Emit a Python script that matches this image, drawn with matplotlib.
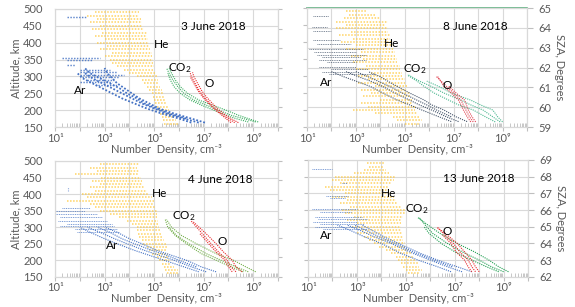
import numpy as np
import matplotlib
matplotlib.use("Agg")
import matplotlib.pyplot as plt
from matplotlib.ticker import FixedLocator, FuncFormatter, LogLocator, NullFormatter

plt.rcParams['font.family'] = ['Lato', 'DejaVu Sans']
plt.rcParams['mathtext.default'] = 'regular'

# ---- data: densities as log10(n, cm^-3), altitudes in km ----
HE_ALT = [160, 170, 180, 190, 200, 210, 220, 230, 240, 250, 260, 270, 280, 290,
          300, 310, 320, 330, 340, 350, 360, 370, 380, 390, 400, 410, 420, 430,
          440, 450, 460, 470, 480, 490, 500]

# 3 June 2018
he_lo_0603 = [5.4, 5.35, 5.3, 5.25, 5.2, 5.1, 5.05, 5.0, 4.95, 4.9, 4.8, 4.7, 4.6, 4.5,
              4.3, 4.0, 3.8, 3.5, 3.3, 3.2, 3.0, 3.3, 2.8, 3.1, 2.7, 3.0, 2.6, 2.9,
              2.5, 2.8, 2.4, 2.7, 2.3, 2.6, 2.5]
he_hi_0603 = [6.0, 5.9, 5.8, 5.7, 5.6, 5.55, 5.5, 5.45, 5.4, 5.35, 5.3, 5.25, 5.2, 5.15,
              5.1, 5.05, 5.0, 5.0, 4.95, 4.95, 4.9, 4.9, 4.85, 4.8, 4.8, 4.75, 4.7, 4.7,
              4.6, 4.5, 4.5, 4.45, 4.4, 4.4, 4.3]
ar_alt_0603 = [163, 175, 190, 205, 220, 235, 250, 265, 280, 295, 310, 325]
ar_0603 = [[7.05, 6.5, 5.8, 5.2, 4.8, 4.4, 4.1, 3.8, 3.5, 3.3, 3.1, 3.0],
           [6.8, 6.2, 5.5, 5.0, 4.5, 4.1, 3.7, 3.3, 2.9, 2.5, 2.2, np.nan],
           [6.5, 6.0, 5.3, 4.7, 4.2, 3.7, 3.3, 2.9, 2.5, 2.1, 1.9, np.nan],
           [np.nan, 6.3, 5.6, 5.1, 4.6, 4.3, 3.9, 3.6, 3.2, 2.8, 2.4, 2.2]]
ar_top_alt_0603 = [475, 356, 350, 335, 320, 312, 305, 298, 290, 282, 275]
ar_top_lo_0603 = [1.5, 1.3, 1.5, 1.5, 2.0, 2.0, 2.0, 2.1, 2.3, 2.0, 2.6]
ar_top_hi_0603 = [2.3, 2.8, 2.5, 1.8, 3.2, 3.5, 3.8, 3.6, 3.4, 3.3, 3.5]
co2_alt_0603 = [165, 175, 185, 200, 215, 230, 250, 270, 290, 310, 325]
co2_0603 = [[9.1, 8.6, 8.1, 7.6, 7.1, 6.6, 6.2, 5.95, 5.75, 5.6, 5.5],
            [8.8, 8.3, 7.9, 7.4, 6.9, 6.45, 6.05, 5.8, 5.65, 5.55, np.nan],
            [9.2, 8.8, 8.4, 7.9, 7.35, 6.8, 6.35, 6.05, 5.85, 5.7, 5.6]]
o_alt_0603 = [163, 175, 190, 205, 220, 240, 260, 280, 300, 312]
o_0603 = [[8.25, 8.0, 7.7, 7.45, 7.25, 7.0, 6.8, 6.65, 6.5, 6.45],
          [8.1, 7.9, 7.65, 7.4, 7.2, 6.95, 6.75, 6.6, 6.45, np.nan],
          [8.4, 8.1, 7.8, 7.55, 7.35, 7.1, 6.9, 6.75, 6.6, 6.55]]

# 8 June 2018
he_lo_0608 = [5.0, 4.7, 4.5, 3.8, 2.9, 3.5, 3.2, 4.0, 3.3, 3.6, 3.2, 3.8, 3.1, 3.5,
              3.1, 3.6, 3.0, 3.4, 2.9, 3.3, 2.8, 3.2, 2.6, 3.0, 2.4, 2.9, 2.3, 2.8,
              2.2, 2.6, 2.2, 2.5, 2.7, 2.6, np.nan]
he_hi_0608 = [5.6, 5.7, 5.6, 5.5, 5.4, 5.4, 5.3, 5.3, 5.2, 5.2, 5.1, 5.1, 5.0, 5.0,
              4.9, 4.9, 4.8, 4.8, 4.7, 4.7, 4.6, 4.6, 4.5, 4.5, 4.5, 4.4, 4.4, 4.3,
              4.3, 4.2, 4.3, 4.0, 3.8, 3.4, np.nan]
ar_alt_0608 = [166, 180, 200, 215, 229, 250, 269, 285, 298, 313]
ar_0608 = [[7.55, 7.1, 6.6, 6.1, 5.8, 5.2, 4.7, 4.3, 4.0, 3.5],
           [7.2, 6.7, 6.1, 5.6, 5.2, 4.6, 4.1, 3.6, 3.1, 2.6],
           [6.9, 6.4, 5.7, 5.2, 4.7, 4.1, 3.6, 3.0, 2.5, 2.0],
           [np.nan, 6.9, 6.3, 5.9, 5.5, 4.9, 4.4, 3.9, 3.5, 3.0]]
ar_top_alt_0608 = [476, 445, 432, 406, 395, 378, 370, 362, 355, 347, 340, 327, 320, 313, 305]
ar_top_lo_0608 = [1.25, 1.2, 1.25, 1.25, 1.4, 1.1, 1.3, 1.4, 1.6, 1.5, 1.8, 1.5, 2.0, 1.6, 1.9]
ar_top_hi_0608 = [1.9, 1.8, 2.0, 2.35, 2.8, 3.3, 3.0, 3.4, 3.2, 3.4, 3.0, 3.0, 3.5, 3.0, 3.8]
co2_alt_0608 = [165, 180, 200, 215, 229, 250, 269, 285, 303]
co2_0608 = [[8.9, 8.6, 8.2, 7.7, 7.3, 6.6, 6.1, 5.6, 5.15],
            [8.7, 8.3, 7.8, 7.2, 6.8, 6.2, 5.8, 5.5, 5.1],
            [9.0, 8.8, 8.6, 8.1, 7.7, 6.9, 6.4, 5.9, np.nan]]
o_alt_0608 = [165, 180, 200, 229, 250, 270, 298]
o_0608 = [[7.8, 7.65, 7.5, 7.3, 7.0, 6.7, 6.3],
          [7.7, 7.55, 7.4, 7.2, 6.9, 6.6, 6.35],
          [7.9, 7.75, 7.6, 7.45, 7.1, 6.8, np.nan]]
sza_top_0608 = 65.0

# 4 June 2018
he_lo_0604 = [5.5, 5.45, 5.4, 5.3, 5.2, 5.1, 4.9, 4.8, 4.7, 4.55, 4.5, 4.4, 4.35, 4.3,
              4.3, 4.1, 3.9, 3.6, 3.2, 2.8, 2.6, 2.4, 1.5, 2.3, 2.1, 2.6, 2.4, 2.8,
              2.5, 2.85, 1.8, 2.7, 2.4, 2.8, 2.7]
he_hi_0604 = [6.0, 5.95, 5.8, 5.7, 5.6, 5.6, 5.55, 5.5, 5.5, 5.5, 5.4, 5.35, 5.3, 5.25,
              5.2, 5.2, 5.15, 5.1, 5.1, 5.1, 5.05, 5.0, 5.0, 4.9, 4.8, 4.7, 4.6, 4.5,
              4.5, 4.45, 4.4, 4.4, 4.3, 4.4, 4.4]
ar_alt_0604 = [165, 180, 200, 215, 230, 250, 265, 285, 300]
ar_0604 = [[7.5, 6.9, 6.3, 5.7, 5.1, 4.5, 4.0, 3.5, 3.0],
           [7.1, 6.5, 5.8, 5.2, 4.6, 3.9, 3.4, 2.8, 2.3],
           [6.8, 6.2, 5.4, 4.8, 4.2, 3.5, 3.0, 2.4, 2.0],
           [np.nan, 6.7, 6.0, 5.5, 4.9, 4.2, 3.7, 3.2, 2.7]]
ar_top_alt_0604 = [359, 350, 339, 330, 318, 310, 303, 295, 284]
ar_top_lo_0604 = [1.3, 1.0, 1.0, 1.2, 1.1, 1.5, 1.2, 1.8, 1.9]
ar_top_hi_0604 = [2.4, 2.2, 2.7, 2.9, 3.1, 3.3, 3.4, 3.5, 3.6]
ar_spot_alt_0604 = [408, 422]
ar_spot_0604 = [1.52, 1.52]
co2_alt_0604 = [165, 180, 200, 220, 250, 275, 300, 323]
co2_0604 = [[9.1, 8.7, 8.2, 7.5, 6.7, 6.1, 5.7, 5.5],
            [8.8, 8.3, 7.7, 7.1, 6.4, 5.9, 5.6, np.nan],
            [8.6, 8.1, 7.5, 6.9, 6.3, 5.85, 5.55, 5.45]]
o_alt_0604 = [165, 180, 200, 225, 250, 280, 318]
o_0604 = [[8.55, 8.3, 8.15, 7.8, 7.5, 7.1, 6.55],
          [8.3, 8.1, 7.95, 7.6, 7.3, 6.95, 6.5],
          [8.15, 8.0, 7.85, 7.5, 7.2, 6.85, np.nan]]

# 13 June 2018
he_lo_0613 = [5.1, 5.0, 4.9, 4.8, 4.7, 4.6, 4.4, 4.2, 3.9, 3.7, 3.5, 3.3, 3.0, 3.2,
              2.8, 3.0, 2.6, 2.9, 2.5, 2.4, 2.7, 2.3, 2.6, 2.0, 2.5, 1.9, 1.7, 2.3,
              2.0, 2.1, 2.9, 3.3, 3.5, 3.4, 3.5]
he_hi_0613 = [5.6, 5.65, 5.55, 5.5, 5.4, 5.35, 5.2, 5.1, 5.0, 4.95, 4.9, 4.9, 4.85, 4.8,
              4.8, 4.8, 4.85, 4.9, 5.0, 5.0, 4.8, 4.7, 4.6, 4.5, 4.4, 4.3, 4.3, 4.4,
              4.5, 4.55, 4.3, 4.2, 4.1, 4.15, 4.0]
ar_alt_0613 = [165, 180, 200, 220, 250, 270, 290, 305]
ar_0613 = [[7.7, 7.1, 6.3, 5.6, 4.7, 4.1, 3.6, 3.2],
           [7.3, 6.7, 6.0, 5.3, 4.4, 3.7, 3.1, 2.6],
           [6.85, 6.3, 5.5, 4.8, 4.0, 3.3, 2.7, 2.2],
           [np.nan, 6.9, 6.15, 5.45, 4.55, 3.9, 3.35, 2.9]]
ar_top_alt_0613 = [473, 431, 392, 385, 352, 345, 330, 322, 315, 308, 300, 292]
ar_top_lo_0613 = [1.15, 2.4, 1.75, 1.9, 1.15, 1.5, 1.3, 1.4, 1.2, 1.5, 1.3, 1.6]
ar_top_hi_0613 = [2.0, 2.6, 2.65, 2.5, 3.0, 2.8, 3.2, 3.4, 3.0, 3.3, 3.0, 3.4]
co2_alt_0613 = [165, 180, 200, 225, 250, 280, 300, 327]
co2_0613 = [[9.2, 8.8, 8.4, 7.8, 7.1, 6.4, 6.0, 5.5],
            [9.0, 8.5, 8.0, 7.3, 6.7, 6.1, 5.85, 5.55],
            [8.8, 8.3, 7.7, 7.0, 6.45, 5.95, 5.75, np.nan]]
o_alt_0613 = [165, 180, 200, 225, 250, 275, 297]
o_0613 = [[8.0, 7.85, 7.7, 7.4, 7.1, 6.7, 6.3],
          [7.85, 7.7, 7.55, 7.2, 6.95, 6.6, 6.3],
          [7.7, 7.55, 7.4, 7.05, 6.85, 6.5, np.nan]]

GRID = '#D9D9D9'
TXT = '#595959'
DOT = (0, (1, 1))
FS = 8
SUP = {1: '¹', 3: '³', 5: '⁵', 7: '⁷', 9: '⁹'}

panels = [
    dict(rect=[0.0957, 0.5863, 0.3878, 0.3844], title='3 June 2018', left=True, sza=(59, 65),
         he=(he_lo_0603, he_hi_0603), ar=(ar_alt_0603, ar_0603),
         ar_top=(ar_top_alt_0603, ar_top_lo_0603, ar_top_hi_0603),
         co2=(co2_alt_0603, co2_0603), o=(o_alt_0603, o_0603),
         c_ar='#4472C4', c_co2='#3DAE62', c_o='#E8282B', ar_lw=1.3,
         lab=dict(title=(7.4, 447), He=(5.3, 396), CO2=(6.05, 325), O=(7.2, 280), Ar=(2.0, 257))),
    dict(rect=[0.5339, 0.5863, 0.3826, 0.3876], title='8 June 2018', left=False, sza=(59, 65),
         he=(he_lo_0608, he_hi_0608), ar=(ar_alt_0608, ar_0608),
         ar_top=(ar_top_alt_0608, ar_top_lo_0608, ar_top_hi_0608),
         co2=(co2_alt_0608, co2_0608), o=(o_alt_0608, o_0608),
         c_ar='#44546A', c_co2='#4DB890', c_o='#E0404F', ar_lw=0.8, sza_top=sza_top_0608,
         lab=dict(title=(7.9, 445), He=(4.45, 397), CO2=(5.4, 320), O=(6.75, 271), Ar=(1.8, 280))),
    dict(rect=[0.0957, 0.0985, 0.3878, 0.3771], title='4 June 2018', left=True, sza=(59, 65),
         he=(he_lo_0604, he_hi_0604), ar=(ar_alt_0604, ar_0604),
         ar_top=(ar_top_alt_0604, ar_top_lo_0604, ar_top_hi_0604),
         ar_spot=(ar_spot_alt_0604, ar_spot_0604),
         co2=(co2_alt_0604, co2_0604), o=(o_alt_0604, o_0604),
         c_ar='#4472C4', c_co2='#70AD47', c_o='#E8282B', ar_lw=0.8,
         lab=dict(title=(7.66, 443), He=(5.2, 403), CO2=(6.2, 333), O=(7.75, 258), Ar=(3.3, 245))),
    dict(rect=[0.5357, 0.0985, 0.3826, 0.3804], title='13 June 2018', left=False, sza=(62, 69),
         he=(he_lo_0613, he_hi_0613), ar=(ar_alt_0613, ar_0613),
         ar_top=(ar_top_alt_0613, ar_top_lo_0613, ar_top_hi_0613),
         co2=(co2_alt_0613, co2_0613), o=(o_alt_0613, o_0613),
         c_ar='#4472C4', c_co2='#1E9E50', c_o='#E8282B', ar_lw=0.8,
         lab=dict(title=(7.98, 445), He=(4.3, 401), CO2=(5.45, 352), O=(6.7, 287), Ar=(1.75, 274))),
]

fig = plt.figure(figsize=(5.75, 3.07), dpi=100)


def decade_label(v, pos):
    k = int(round(np.log10(v)))
    return '10' + SUP[k] if k in SUP else ''


for p in panels:
    ax = fig.add_axes(p['rect'])
    ax2 = ax.twinx()
    ax.set_zorder(2)
    ax2.set_zorder(1)
    ax.patch.set_visible(False)

    ax.set_xscale('log')
    ax.set_xlim(1e1, 1e10)
    ax.set_ylim(150, 500)
    ax2.set_ylim(*p['sza'])

    # He: spin-modulated spread, drawn as dotted horizontal bars
    lo, hi = p['he']
    for a, l, h in zip(HE_ALT, lo, hi):
        if np.isnan(l):
            continue
        ax.hlines(a, 10 ** l, 10 ** h, colors='#FFC83A', linestyles=DOT, lw=1.1, alpha=0.8)

    # Ar
    alt, rows = p['ar']
    for r in rows:
        ax.plot(10 ** np.array(r), alt, ls=DOT, lw=p['ar_lw'], color=p['c_ar'])
    ta, tl, th = p['ar_top']
    for a, l, h in zip(ta, tl, th):
        ax.hlines(a, 10 ** l, 10 ** h, colors=p['c_ar'], linestyles=DOT, lw=p['ar_lw'] * 0.8, alpha=0.85)
    if 'ar_spot' in p:
        sa, sv = p['ar_spot']
        ax.plot(10 ** np.array(sv), sa, ls=DOT, lw=0.8, color='#8FA9DB')

    # CO2 and O
    alt, rows = p['co2']
    for r in rows:
        ax.plot(10 ** np.array(r), alt, ls=DOT, lw=0.8, color=p['c_co2'])
    alt, rows = p['o']
    for r in rows:
        ax.plot(10 ** np.array(r), alt, ls=DOT, lw=0.8, color=p['c_o'])

    if 'sza_top' in p:
        ax2.axhline(p['sza_top'], color='#5BAF7E', lw=1.2, clip_on=False)

    # labels inside the plot
    lab = p['lab']
    ax.text(10 ** lab['title'][0], lab['title'][1], p['title'], ha='center', va='center', fontsize=8.5)
    ax.text(10 ** lab['He'][0], lab['He'][1], 'He', ha='center', va='center', fontsize=8.5)
    ax.text(10 ** lab['CO2'][0], lab['CO2'][1], 'CO$_2$', ha='center', va='center', fontsize=8.5)
    ax.text(10 ** lab['O'][0], lab['O'][1], 'O', ha='center', va='center', fontsize=8.5)
    ax.text(10 ** lab['Ar'][0], lab['Ar'][1], 'Ar', ha='center', va='center', fontsize=8.5)

    # x axis
    ax.xaxis.set_major_locator(FixedLocator([10.0 ** k for k in range(1, 11)]))
    ax.xaxis.set_major_formatter(FuncFormatter(decade_label))
    ax.xaxis.set_minor_locator(LogLocator(base=10, subs=np.arange(2, 10), numticks=20))
    ax.xaxis.set_minor_formatter(NullFormatter())
    ax.tick_params(axis='x', which='major', direction='out', length=3, color='#BFBFBF',
                   labelcolor=TXT, labelsize=8, pad=1)
    ax.tick_params(axis='x', which='minor', direction='in', length=3, color='#BFBFBF')
    ax.set_xlabel('Number  Density, cm⁻³', fontsize=8, color=TXT, labelpad=0)
    ax.grid(True, axis='x', which='major', color=GRID, lw=0.8)

    ax.set_yticks([150, 200, 250, 300, 350, 400, 450, 500])
    ax2.set_yticks(np.arange(p['sza'][0], p['sza'][1] + 1))
    if p['left']:
        ax.tick_params(axis='y', length=0, labelcolor=TXT, labelsize=FS, pad=9)
        ax.set_ylabel('Altitude, km', fontsize=FS, color=TXT, labelpad=1)
        ax.grid(True, axis='y', color=GRID, lw=0.8)
        ax2.tick_params(axis='y', length=3, color='#BFBFBF', labelright=False)
    else:
        ax.tick_params(axis='y', length=3, color='#BFBFBF', labelleft=False)
        ax2.tick_params(axis='y', length=4, color='#BFBFBF', labelcolor=TXT, labelsize=FS, pad=4)
        ax2.set_ylabel('SZA, Degrees', fontsize=FS, color=TXT, rotation=270, labelpad=10)
        ax2.grid(True, axis='y', color=GRID, lw=0.8)

    for a in (ax, ax2):
        for s in a.spines.values():
            s.set_color(GRID)
            s.set_linewidth(0.8)

fig.savefig('out.png', dpi=100)
